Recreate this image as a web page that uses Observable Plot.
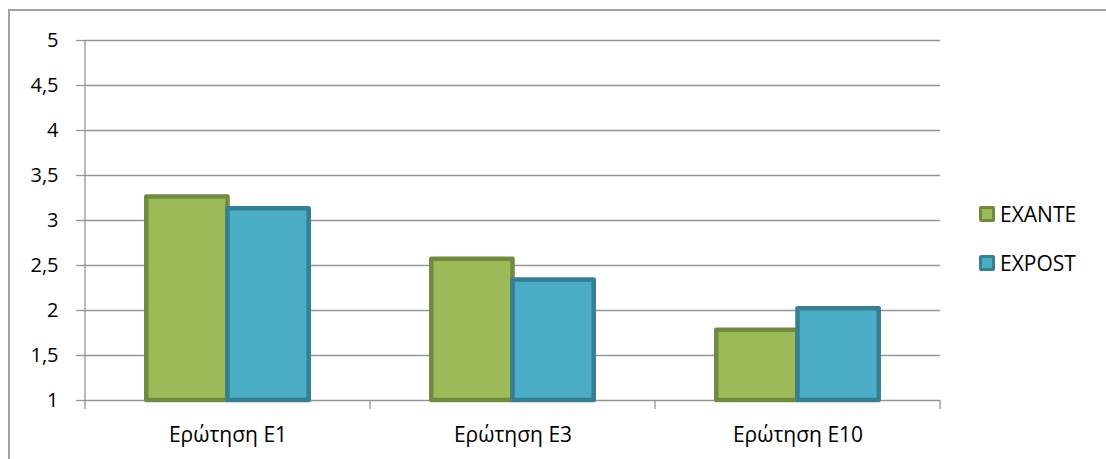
<!DOCTYPE html>
<html>
<head>
<meta charset="utf-8">
<script src="https://cdn.jsdelivr.net/npm/d3@7"></script>
<script src="https://cdn.jsdelivr.net/npm/@observablehq/plot@0.6"></script>
<style>
  html, body { margin: 0; padding: 0; background: #fff; }
  #wrap { position: relative; width: 1106px; height: 459px; overflow: hidden; font-family: "Open Sans", sans-serif; }
  #border { position: absolute; left: 8px; top: 9px; width: 1200px; height: 600px; border-left: 2px solid #a3a3a3; border-top: 2px solid #a3a3a3; }
  #chart { position: absolute; left: 0; top: 0; }
  .leg { position: absolute; left: 979px; display: flex; align-items: center; font-size: 21px; color: #000; }
  .sw { width: 10px; height: 10px; border: 3px solid; border-radius: 2px; margin-right: 5px; }
</style>
</head>
<body>
<div id="wrap">
  <div id="border"></div>
  <div id="chart"></div>
  <div id="legend"></div>
</div>
<script>
const categories = ["Ερώτηση E1", "Ερώτηση E3", "Ερώτηση E10"];
const series = ["EXANTE", "EXPOST"];
const exante = [3.26, 2.57, 1.78];
const expost = [3.13, 2.34, 2.02];
const yTicks = [1, 1.5, 2, 2.5, 3, 3.5, 4, 4.5, 5];

const fills = {EXANTE: "#9BBB59", EXPOST: "#4BACC6"};
const strokes = {EXANTE: "#728A3F", EXPOST: "#357F91"};
const grid = "#959595";

const data = categories.map((c, i) => ({category: c, EXANTE: exante[i], EXPOST: expost[i]}));

const W = 960, H = 459, ML = 85, MR = 20, MT = 40, MB = 59;
const bw = (W - ML - MR) / categories.length;
const barW = 0.285 * bw;
const gap = (bw - 2 * barW) / 2;

function frameTicks(index, scales, values, dimensions) {
  const {x, y} = scales;
  const band = typeof x.bandwidth === "function" ? x.bandwidth() : (x.bandwidth ?? bw);
  const g = d3.create("svg:g").attr("stroke", grid).attr("stroke-width", 1.3).attr("fill", "none");
  const y0 = y(yTicks[0]), y1 = y(yTicks[yTicks.length - 1]);
  g.append("line").attr("x1", dimensions.marginLeft).attr("x2", dimensions.marginLeft).attr("y1", y1).attr("y2", y0);
  const edges = categories.map(c => x(c)).concat([x(categories[categories.length - 1]) + band]);
  for (const e of edges) {
    g.append("line").attr("x1", e).attr("x2", e).attr("y1", y0).attr("y2", y0 + 9);
  }
  return g.node();
}

const fmt = d => String(d).replace(".", ",");

const plot = Plot.plot({
  width: W,
  height: H,
  marginLeft: ML,
  marginRight: MR,
  marginTop: MT,
  marginBottom: MB,
  style: {fontFamily: "Open Sans, sans-serif", fontSize: "20px", color: "#000", background: "transparent", overflow: "visible"},
  x: {domain: categories, padding: 0, label: null},
  y: {domain: [1, 5], label: null},
  marks: [
    Plot.ruleY(yTicks, {stroke: grid, strokeWidth: 1.3}),
    Plot.barY(data, {x: "category", y1: yTicks[0], y2: "EXANTE", fill: fills.EXANTE, stroke: strokes.EXANTE, strokeWidth: 4.5, strokeLinejoin: "round",
      insetLeft: gap, insetRight: bw - gap - barW}),
    Plot.barY(data, {x: "category", y1: yTicks[0], y2: "EXPOST", fill: fills.EXPOST, stroke: strokes.EXPOST, strokeWidth: 4.5, strokeLinejoin: "round",
      insetLeft: gap + barW, insetRight: gap}),
    frameTicks,
    Plot.axisY({ticks: yTicks, tickFormat: fmt, tickSize: 9, tickPadding: 18, stroke: grid, strokeWidth: 1.3, fontSize: 20, label: null}),
    Plot.axisX({tickSize: 0, tickPadding: 27, fontSize: 21, label: null})
  ]
});
document.getElementById("chart").appendChild(plot);

const legend = document.getElementById("legend");
const legTops = [200, 249];
series.forEach((s, i) => {
  const row = document.createElement("div");
  row.className = "leg";
  row.style.top = legTops[i] + "px";
  const sw = document.createElement("span");
  sw.className = "sw";
  sw.style.background = fills[s];
  sw.style.borderColor = strokes[s];
  const t = document.createElement("span");
  t.textContent = s;
  row.appendChild(sw);
  row.appendChild(t);
  legend.appendChild(row);
});
</script>
</body>
</html>
